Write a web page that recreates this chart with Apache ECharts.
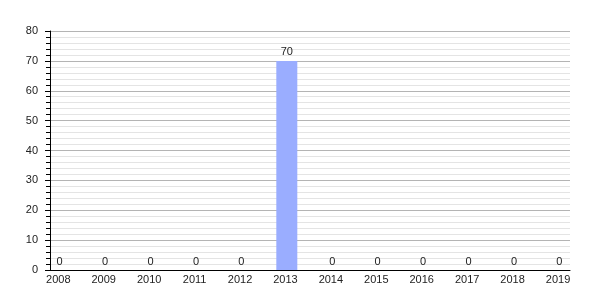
<!DOCTYPE html>
<html><head><meta charset="utf-8">
<script src="https://cdn.jsdelivr.net/npm/echarts@6/dist/echarts.min.js"></script>
<style>html,body{margin:0;padding:0;background:#fff}#c{width:600px;height:300px}</style>
</head><body><div id="c"></div>
<script>
const categories = ['2008','2009','2010','2011','2012','2013','2014','2015','2016','2017','2018','2019'];
const values = [0,0,0,0,0,70,0,0,0,0,0,0];
const yTicks = [0,10,20,30,40,50,60,70,80];

const chart = echarts.init(document.getElementById('c'), null, {renderer:'canvas'});
const font = 'Liberation Sans, Arial, sans-serif';
chart.setOption({
  animation:false,
  grid:{left:50,right:30,top:31,bottom:30,containLabel:false},
  xAxis:{
    type:'value', min:-0.183, max:11.264,
    axisLine:{show:true,onZero:false,lineStyle:{color:'#000',width:1}},
    axisTick:{show:false},
    splitLine:{show:false},
    axisLabel:{customValues:categories.map((c,i)=>i),formatter:v=>categories[Math.round(v)],
      color:'#222',fontSize:11,fontFamily:font,margin:4}
  },
  yAxis:{
    type:'value', min:yTicks[0], max:yTicks[yTicks.length-1], interval:10,
    axisLine:{show:true,onZero:false,lineStyle:{color:'#000',width:1}},
    axisTick:{show:true,length:5,lineStyle:{color:'#000'}},
    minorTick:{show:true,splitNumber:5,length:4,lineStyle:{color:'#000'}},
    splitLine:{show:true,lineStyle:{color:'#b4b4b4',width:1}},
    minorSplitLine:{show:true,lineStyle:{color:'#e4e4e4',width:1}},
    axisLabel:{color:'#222',fontSize:11,fontFamily:font,margin:12}
  },
  series:[{
    type:'bar',
    data:values.map((v,i)=>[i+0.03,v]),
    barWidth:21,
    itemStyle:{color:'#9aadff'},
    label:{show:true,position:'top',distance:3,color:'#222',fontSize:11,fontFamily:font,
      formatter:p=>p.value[1]}
  }]
});
</script></body></html>
